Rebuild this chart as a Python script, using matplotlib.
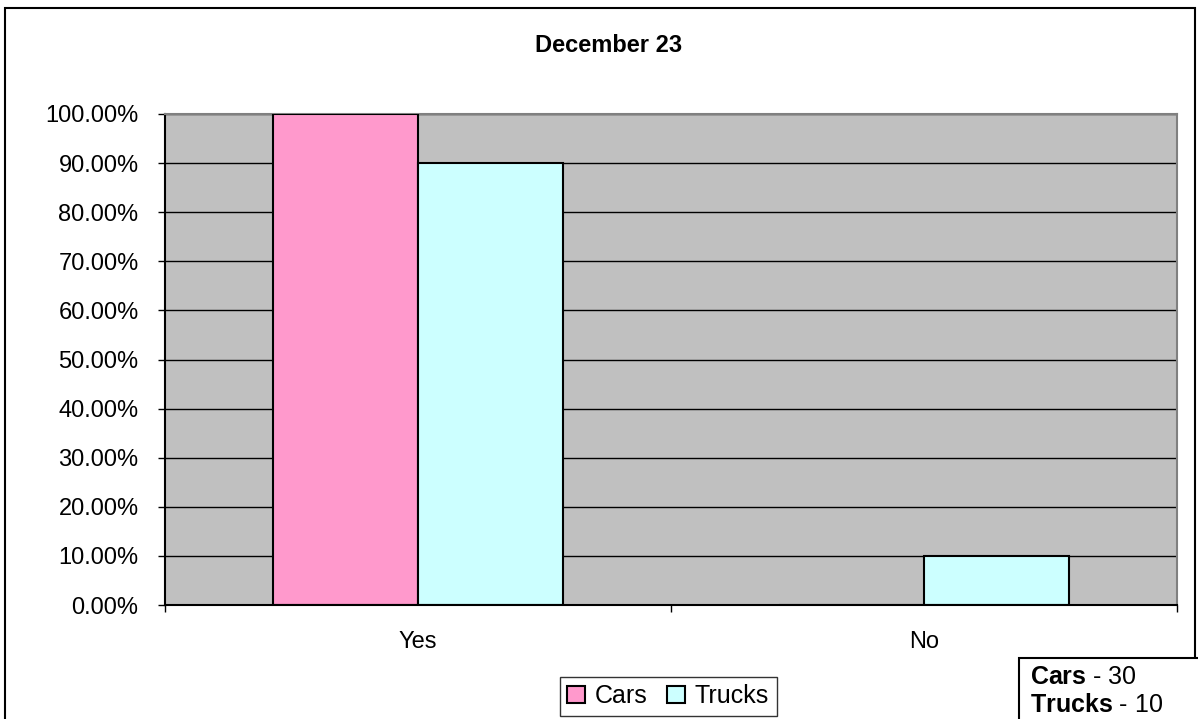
import matplotlib.pyplot as plt
from matplotlib.patches import Rectangle
from matplotlib.ticker import PercentFormatter, MultipleLocator, FixedLocator

plt.rcParams['font.family'] = ['Liberation Sans', 'DejaVu Sans']
plt.rcParams['mathtext.fontset'] = 'custom'
plt.rcParams['mathtext.rm'] = 'Liberation Sans'
plt.rcParams['mathtext.bf'] = 'Liberation Sans:bold'

# data
categories = ['Yes', 'No']
cars = [100, 0]
trucks = [90, 10]
series_names = ['Cars', 'Trucks']
counts = [30, 10]

W, H = 1198, 719
fs = 17
fig = plt.figure(figsize=(W / 100, H / 100), dpi=100)
ax = fig.add_axes([165 / W, 1 - 605 / H, (1177 - 165) / W, (605 - 114) / H])

ax.set_facecolor('#C0C0C0')
x = list(range(len(categories)))
bw = 0.287
ax.bar([i - bw / 2 for i in x], cars, bw, color='#FF99CC', edgecolor='black',
       linewidth=1.5, label=series_names[0], zorder=3)
ax.bar([i + bw / 2 for i in x], trucks, bw, color='#CCFFFF', edgecolor='black',
       linewidth=1.5, label=series_names[1], zorder=3)

ax.set_xlim(-0.5, len(categories) - 0.5)
ax.set_ylim(0, 100)
ax.yaxis.set_major_locator(MultipleLocator(10))
ax.yaxis.set_major_formatter(PercentFormatter(xmax=100, decimals=2))
ax.grid(axis='y', color='black', linewidth=1, zorder=1)

ax.set_xticks(x)
ax.set_xticklabels(categories)
ax.xaxis.set_minor_locator(FixedLocator([i - 0.5 for i in range(len(categories) + 1)]))
ax.tick_params(axis='x', which='major', length=0, pad=19, labelsize=fs)
ax.tick_params(axis='x', which='minor', length=5, width=1, direction='out')
ax.tick_params(axis='y', length=5, width=1, pad=14, labelsize=fs)

for s in ['top', 'right']:
    ax.spines[s].set_color('#808080')
    ax.spines[s].set_linewidth(1.5)
for s in ['left', 'bottom']:
    ax.spines[s].set_color('black')
    ax.spines[s].set_linewidth(1.5)
ax.spines['bottom'].set_zorder(4)

fig.text(609 / W, 1 - 46 / H, 'December 23', ha='center', va='center',
         fontsize=17, fontweight='bold')

leg = fig.legend(loc='center', bbox_to_anchor=(668 / W, 1 - 696 / H), ncol=2,
                 fontsize=18, frameon=True, fancybox=False, edgecolor='black',
                 handlelength=0.7, handleheight=0.7, handletextpad=0.4,
                 columnspacing=0.8, borderpad=0.3)
leg.get_frame().set_linewidth(1)

# outer chart border
fig.patches.append(Rectangle((5 / W, -0.05), (1195 - 5) / W, 1.05 - 8 / H,
                             transform=fig.transFigure, fill=False,
                             edgecolor='black', linewidth=1.5))
# counts box
fig.patches.append(Rectangle((1019 / W, -0.01), 0.2, 0.01 + 61 / H,
                             transform=fig.transFigure, facecolor='white',
                             edgecolor='black', linewidth=1.5, zorder=5))
for i, (name, c) in enumerate(zip(series_names, counts)):
    fig.text(1030 / W, 1 - (677 + i * 28) / H, r'$\mathbf{%s}$ - %d' % (name, c),
             ha='left', va='center', fontsize=18, zorder=6)

fig.savefig('out.png', dpi=100)
